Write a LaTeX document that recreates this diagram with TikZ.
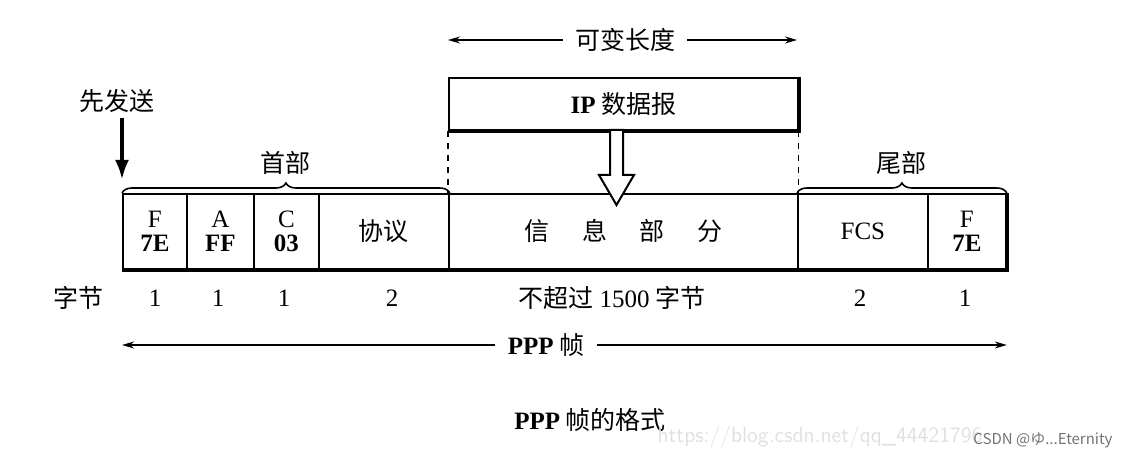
\documentclass[tikz,border=0pt]{standalone}
\usepackage{fontspec}
\setmainfont{Liberation Serif}
\newfontfamily\cjk{Noto Sans CJK SC}
\usetikzlibrary{decorations.pathreplacing,arrows.meta}
\begin{document}
\begin{tikzpicture}[x=0.5pt,y=-0.5pt,
  every node/.style={font=\fontsize{12.5}{13}\selectfont\cjk, inner sep=0pt},
  lat/.style={font=\fontsize{12.5}{13}\selectfont},
  fld/.style={draw, line width=0.9pt, minimum height=37.5pt, anchor=north west},
  brc/.style={decorate, decoration={brace, amplitude=5pt}, line width=0.8pt},
  dim/.style={-{Stealth[length=6pt,width=3.5pt]}, line width=0.7pt}]
\useasboundingbox (0,0) rectangle (1134,459);
% fields
\node[fld, minimum width=32pt] (f1) at (122,193) {};
\node[fld, minimum width=33.5pt] (f2) at (186,193) {};
\node[fld, minimum width=32.5pt] (f3) at (253,193) {};
\node[fld, minimum width=65pt] (f4) at (318,193) {};
\node[fld, minimum width=174.5pt] (f5) at (448,193) {};
\node[fld, minimum width=65pt] (f6) at (797,193) {};
\node[fld, minimum width=39pt] (f7) at (927,193) {};
\draw[line width=2pt] (f1.south west) -- (f7.south east) -- (f7.north east);
\node[lat, align=center] at (f1.center) {F\\[-1pt]\textbf{7E}};
\node[lat, align=center] at (f2.center) {A\\[-1pt]\textbf{FF}};
\node[lat, align=center] at (f3.center) {C\\[-1pt]\textbf{03}};
\node at (f4.center) {协议};
\node at (f5.center) {信\hspace{1.3em}息\hspace{1.3em}部\hspace{1.3em}分};
\node[lat] at (f6.center) {FCS};
\node[lat, align=center] at (f7.center) {F\\[-1pt]\textbf{7E}};
% IP datagram
\node[draw, line width=0.9pt, minimum width=174.5pt, minimum height=26pt, anchor=north west] (ip) at (448,77) {};
\draw[line width=2pt] (ip.north east) -- (ip.south east) -- (ip.south west);
\node at (ip.center) {\textbf{\rmfamily IP} 数据报};
\draw[dashed, line width=0.6pt] (ip.south west) -- (f5.north west);
\draw[dashed, line width=0.6pt] (ip.south east) -- (f5.north east);
% hollow arrow
\draw[line width=1pt, fill=white] (610,130) -- (623,130) -- (623,175) -- (634,175) -- (616.5,205) -- (599,175) -- (610,175) -- cycle;
% variable length
\node (var) at (625,40) {可变长度};
\coordinate (vl) at (448,40); \coordinate (vr) at (797,40);
\draw[dim] (var.west) ++(-12,0) -- (vl);
\draw[dim] (var.east) ++(12,0) -- (vr);
% send first
\node (send) at (117,101) {先发送};
\coordinate (sa) at (122,180);
\draw[-{Latex[length=10pt,width=7pt]}, line width=2pt] (122,118) -- (sa);
% braces
\draw[brc] (f1.north west) -- (f4.north east) node[midway, above=9pt] {首部};
\draw[brc] (f6.north west) -- (f7.north east) node[midway, above=9pt] {尾部};
% bytes row
\node at (78,298) {字节};
\node[lat] at (155,298) {1};
\node[lat] at (218,298) {1};
\node[lat] at (284,298) {1};
\node[lat] at (392,298) {2};
\node at (612,298) {不超过 {\rmfamily 1500} 字节};
\node[lat] at (860,298) {2};
\node[lat] at (965,298) {1};
% PPP frame
\node (ppp) at (546,345) {{\rmfamily\bfseries PPP} 帧};
\draw[dim] (ppp.west) ++(-12,0) -- (f1.west |- ppp.west);
\draw[dim] (ppp.east) ++(12,0) -- (f7.east |- ppp.east);
% caption
\node (cap) at (590,420) {{\rmfamily\bfseries PPP} 帧的格式};
\node[text=black!12, font=\fontsize{11}{12}\selectfont\sffamily] (url) at (820,437) {https://blog.csdn.net/qq\_44421796};
\node[text=black!55, font=\fontsize{7.5}{8}\selectfont\cjk] (wm) at (1043,440) {CSDN @ゆ...Eternity};
\end{tikzpicture}
\end{document}
